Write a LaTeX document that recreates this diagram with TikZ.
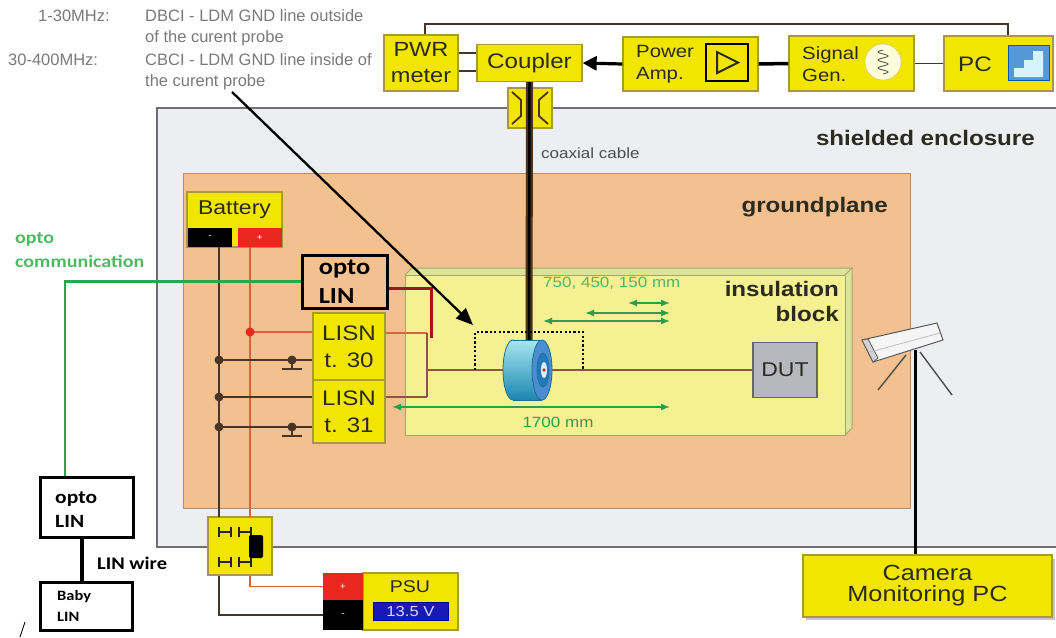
\documentclass[tikz,border=0pt]{standalone}
\usepackage{fontspec}
\setmainfont{Liberation Sans}[FakeStretch=1.15]
\newfontfamily\plainsans{Liberation Sans}
\newfontfamily\calfont{Carlito}[FakeStretch=1.15]
\usetikzlibrary{arrows.meta,calc}

\definecolor{encl}{HTML}{EDEEF1}
\definecolor{enclline}{HTML}{6F6F6F}
\definecolor{gplane}{HTML}{F3C18F}
\definecolor{gpline}{HTML}{B98A66}
\definecolor{insul}{HTML}{F5F091}
\definecolor{insulside}{HTML}{DCE39A}
\definecolor{insulline}{HTML}{A5A56A}
\definecolor{boxyel}{HTML}{F2E500}
\definecolor{boxline}{HTML}{A89A3A}
\definecolor{txt}{HTML}{2B2B1F}
\definecolor{graytxt}{HTML}{7A7A7A}
\definecolor{optogreen}{HTML}{2EA44F}
\definecolor{optotext}{HTML}{4DBA62}
\definecolor{dimgreen}{HTML}{2F9E4A}
\definecolor{wirebrown}{HTML}{8E5448}
\definecolor{wirered}{HTML}{E2603E}
\definecolor{wiredark}{HTML}{4A3426}
\definecolor{darkred}{HTML}{A0161A}
\definecolor{dutgray}{HTML}{B7B7BF}
\definecolor{termred}{HTML}{E8281E}
\definecolor{probelight}{HTML}{A6E6F2}
\definecolor{probedark}{HTML}{1C86B0}
\definecolor{probeline}{HTML}{1F6E8C}

\newcommand{\setsz}[2]{\fontsize{#1}{#2}\selectfont}

\tikzset{
  lbl/.style={inner sep=0pt, text=txt},
  instr/.style={draw=boxline, line width=1.3pt, fill=boxyel, inner sep=0pt, text=txt, align=center},
  blackbox/.style={draw=black, line width=3pt, inner sep=0pt, text=black},
  wire/.style={line width=1.6pt, wiredark},
  dim/.style={dimgreen, line width=1.4pt, {Latex[length=9pt,width=7pt]}-{Latex[length=9pt,width=7pt]}},
  gnd/.pic={
    \fill[wiredark] (0,0) circle (4.5pt);
    \draw[wiredark, line width=1.6pt] (0,0) -- (0,9);
    \draw[wiredark, line width=1.6pt] (-10,9) -- (10,9);
  },
  hcap/.pic={
    \draw[black!85, line width=1.8pt] (-6,-5) -- (-6,5) (-6,0) -- (6,0) (6,-5) -- (6,5);
  }
}

\begin{document}
\begin{tikzpicture}[x=1pt,y=-1pt]
\useasboundingbox (0,0) rectangle (1056,637);
\fill[white] (0,0) rectangle (1056,637);

% ---------- shielded enclosure and groundplane ----------
\fill[encl] (157,108) rectangle (1070,547);
\draw[enclline, line width=1.6pt] (1070,108) -- (157,108) -- (157,547) -- (1070,547);
\draw[gpline, line width=1pt, fill=gplane] (183,173) rectangle (910,508);

\node[lbl, anchor=east, font=\bfseries\setsz{21}{25}] (shtxt) at (1035,138) {shielded enclosure};
\node[lbl, anchor=east, font=\bfseries\setsz{21}{25}] (gptxt) at (888,207) {groundplane};

% ---------- insulation block ----------
\fill[insulside] (405,275) -- (412,268) -- (852,268) -- (852,428) -- (845,435) -- cycle;
\draw[insulline, line width=1pt] (405,275) -- (412,268) -- (852,268) -- (852,428) -- (845,435);
\draw[insulline, line width=1pt] (845,275) -- (852,268);
\draw[insulline, line width=1pt, fill=insul] (405,275) rectangle (845,435);
\node[lbl, anchor=east, align=right, font=\bfseries\setsz{21}{25}] (instxt) at (839,301) {insulation\\block};

\node[draw=gray!80!black, line width=1.2pt, fill=dutgray, minimum width=64, minimum height=55, inner sep=0pt, font=\setsz{20}{24}, text=txt] (dut) at (785,370) {DUT};

% ---------- instruments outside the enclosure ----------
\node[instr, minimum width=74, minimum height=56, font=\setsz{20.5}{26}] (pwr) at (421,63) {PWR\\meter};
\node[instr, minimum width=105, minimum height=37, font=\setsz{21}{25}] (coupler) at (529.5,63) {Coupler};
\node[instr, minimum width=135, minimum height=54] (amp) at (690.5,64) {};
\node[lbl, anchor=west, align=left, font=\setsz{17.7}{22}] (amptxt) at (636,64) {Power\\Amp.};
\node[draw=black, line width=2.5pt, fill=boxyel, minimum width=42, minimum height=37, inner sep=0pt] (ampicon) at (727,62.5) {};
\draw[txt, line width=2pt] (717,52) -- (738,62.5) -- (717,73) -- cycle;
\node[instr, minimum width=125, minimum height=55] (sig) at (851.5,63.5) {};
\node[lbl, anchor=west, align=left, font=\setsz{17.7}{22}] (sigtxt) at (802,64) {Signal\\Gen.};
\node[circle, draw=boxline!60, fill=yellow!15!white, minimum size=36, inner sep=0pt] (sigicon) at (883,62) {};
\draw[gray!70!black, line width=0.9pt] plot[domain=-12:12, samples=40] ({883+5*sin(\x*45)}, {62+\x});
\node[instr, minimum width=109, minimum height=55] (pc) at (998.5,63.5) {};
\node[lbl, font=\setsz{21}{25}] (pctxt) at (975,64) {PC};
\node[draw=blue!50!cyan!70!black, fill=cyan!60!blue!70, minimum width=41, minimum height=35, inner sep=0pt] (pcicon) at (1028.5,62.5) {};
\fill[white!85!cyan] (1014,77) -- (1014,68) -- (1024,68) -- (1024,60) -- (1033,60) -- (1033,51) -- (1043,51) -- (1043,77) -- cycle;

\draw[wiredark, line width=2pt] ([xshift=4pt]pwr.north) -- ++(0,-10) -| ([xshift=9.5pt]pc.north);
\draw[wiredark, line width=1.5pt] ([yshift=10pt]pwr.east) -- ([yshift=10pt]pwr.east -| coupler.west);
\draw[wiredark, line width=1.5pt] ([yshift=-8pt]pwr.east) -- ([yshift=-8pt]pwr.east -| coupler.west);
\draw[black, line width=3.2pt, -{Triangle[length=14pt,width=14pt]}] (amp.west) -- (coupler.east);
\draw[black, line width=3.5pt] (amp.east) -- (sig.west);
\draw[wiredark, line width=1.5pt] (sig.east) -- (pc.west);

% ---------- coaxial feed through and cable ----------
\node[instr, minimum width=44, minimum height=40] (conn) at (530,108) {};
\draw[wiredark, line width=1.8pt] (512,92) -- (521,100) -- (521,116) -- (512,124);
\draw[wiredark, line width=1.8pt] (548,92) -- (539,100) -- (539,116) -- (548,124);
\coordinate (probetop) at (529,341);
\draw[line width=7pt, black!60!brown] (coupler.south) -- (probetop);
\draw[line width=2.5pt, black] (coupler.south) -- (probetop);
\node[lbl, anchor=west, text=black!70, font=\setsz{14.8}{18}] (coaxtxt) at (541,153) {coaxial cable};

% ---------- top annotations ----------
\begin{scope}[every node/.style={lbl, anchor=west, text=graytxt, font=\plainsans\setsz{16.5}{20}}]
  \node (tla) at (38,16) {1-30MHz:};
  \node (tlb) at (145,16) {DBCI - LDM GND line outside};
  \node (tlc) at (145,38) {of the curent probe};
  \node (tld) at (8,60) {30-400MHz:};
  \node (tle) at (145,60) {CBCI - LDM GND line inside of};
  \node (tlf) at (145,82) {the curent probe};
\end{scope}

% ---------- battery, LISNs and wiring ----------
\node[instr, minimum width=95, minimum height=55] (bat) at (234.5,219.5) {};
\node[lbl, font=\setsz{20}{24}] (battxt) at (234.5,210) {Battery};
\node[fill=black, minimum width=44, minimum height=19, inner sep=0pt, text=white, font=\setsz{9}{9}] (batneg) at (210,237.5) {-};
\node[fill=termred, minimum width=44, minimum height=19, inner sep=0pt, text=white, font=\setsz{9}{9}] (batpos) at (260,237.5) {+};

\node[instr, minimum width=64, minimum height=58] (fuse) at (240,546) {};
\pic at (225,532) {hcap};
\pic at (245,532) {hcap};
\pic at (225,562) {hcap};
\pic at (245,562) {hcap};

\coordinate (negtop) at (219,247);
\coordinate (postop) at (250,247);
\coordinate (negbot) at (219,517);
\coordinate (posbot) at (250,517);
\coordinate (ja) at (219,360);
\coordinate (jb) at (219,397);
\coordinate (jc) at (219,427);
\coordinate (jr) at (250,332);

\draw[wire] (negtop) -- (negbot);
\draw[wirered, line width=1.6pt] (postop) -- (posbot);
\fill[black, rounded corners=2pt] (249,535) rectangle (263,558);

\node[instr, minimum width=72, minimum height=67, font=\setsz{21}{27}] (lisn30) at (349,346.5) {LISN\\t. 30};
\node[instr, minimum width=72, minimum height=63, font=\setsz{21}{27}] (lisn31) at (349,411.5) {LISN\\t. 31};

\draw[wirered, line width=1.6pt] (jr) -- (jr -| lisn30.west);
\fill[termred] (jr) circle (4.5pt);
\draw[wire] (ja) -- (ja -| lisn30.west);
\draw[wire] (jb) -- (jb -| lisn31.west);
\draw[wire] (jc) -- (jc -| lisn31.west);
\foreach \j in {ja,jb,jc} \fill[wiredark] (\j) circle (4.5pt);
\pic at (292,360) {gnd};
\pic at (292,427) {gnd};

\coordinate (outtop) at (427,333);
\coordinate (outmid) at (427,370);
\coordinate (outbot) at (427,397);
\draw[wirered, line width=1.6pt] (outtop -| lisn30.east) -- (outtop);
\draw[wirebrown, line width=1.8pt] (outtop) -- (outbot);
\draw[wirebrown, line width=1.8pt] (outbot -| lisn31.east) -- (outbot);
\draw[wirebrown, line width=2pt] (outmid) -- (dut.west);

% ---------- current probe ----------
\draw[black, line width=2.2pt, dash pattern=on 2.2pt off 2.2pt] (475,370) |- (583,332) -- (583,370);
\shade[top color=probelight, bottom color=probedark, draw=probeline, line width=0.8pt] (513,370) ellipse [x radius=10pt, y radius=30pt];
\shade[top color=probelight, bottom color=probedark] (513,340) rectangle (542,400);
\draw[probeline, line width=0.8pt] (513,340) -- (542,340) (513,400) -- (542,400);
\draw[probeline, line width=0.8pt, fill=cyan!55!blue!75] (542,370) ellipse [x radius=10pt, y radius=30pt];
\draw[probeline, line width=0.6pt, fill=cyan!60!blue!90!black] (543,370) ellipse [x radius=6pt, y radius=17pt];
\fill[white!85!cyan] (544,370) ellipse [x radius=3pt, y radius=8pt];
\fill[termred] (544,370) circle (1.8pt);

% ---------- opto link ----------
\node[blackbox, minimum width=85, minimum height=53, align=left, font=\calfont\bfseries\setsz{23}{29}] (optoA) at (344.5,281.5) {opto\\LIN};
\draw[darkred, line width=2.6pt] ([yshift=-7pt]optoA.east) -- ++(43,0) -- ++(0,49);

\node[blackbox, minimum width=93, minimum height=60] (optoB) at (86.5,507) {};
\node[lbl, anchor=west, align=left, text=black, font=\calfont\bfseries\setsz{18.7}{24}] (optoBtxt) at (55,510) {opto\\LIN};
\node[blackbox, minimum width=92, minimum height=48] (baby) at (86,606) {};
\node[lbl, anchor=west, align=left, text=black, font=\calfont\bfseries\setsz{14.3}{21}] (babytxt) at (57,606) {Baby\\LIN};
\draw[black, line width=4pt] ([xshift=-4.5pt]optoB.south) -- ([xshift=-4pt]baby.north);
\node[lbl, anchor=west, text=black, font=\calfont\bfseries\setsz{17.8}{22}] (lintxt) at (97,563) {LIN wire};
\draw[optogreen, line width=2.6pt] (optoA.west) -| ([xshift=-21.5pt]optoB.north);
\node[lbl, anchor=west, align=left, text=optotext, font=\calfont\bfseries\setsz{17.4}{24}] (optocomm) at (15,250) {opto\\communication};
\draw[black, line width=0.8pt] (20,637) -- (25,622);

% ---------- dimensions ----------
\draw[dim] (392,407) -- (670,407);
\node[lbl, text=dimgreen, font=\setsz{14.8}{18}] (d1700) at (558,422) {1700 mm};
\draw[dim] (628,303) -- (670,303);
\draw[dim] (585,313) -- (670,313);
\draw[dim] (543,321) -- (670,321);
\node[lbl, anchor=west, text=dimgreen!80, font=\setsz{14.8}{18}] (dshort) at (543,283) {750, 450, 150 mm};

% ---------- pointer to the probe ----------
\coordinate (ptrstart) at (232,92);
\coordinate (ptrend) at (473,325);
\draw[black, line width=2.3pt, -{Triangle[length=17pt,width=14pt]}] (ptrstart) -- (ptrend);

% ---------- power supply ----------
\node[instr, minimum width=95, minimum height=57] (psu) at (410.5,601.5) {};
\node[lbl, font=\setsz{17}{20}] (psutxt) at (410,587) {PSU};
\node[draw=blue!60!black, fill=blue!70!black!90, minimum width=75, minimum height=18, inner sep=0pt, text=blue!15, font=\setsz{14.5}{16}] (volt) at (410.5,611) {13.5 V};
\node[fill=termred, minimum width=40, minimum height=27, inner sep=0pt, text=white, font=\setsz{9}{9}] (psupos) at (343,586.5) {+};
\node[fill=black, minimum width=40, minimum height=30, inner sep=0pt, text=white, font=\setsz{9}{9}] (psuneg) at (343,615) {-};
\draw[wire] ([xshift=-21pt]fuse.south) |- (psuneg.west);
\draw[wirered, line width=1.6pt] ([xshift=10pt]fuse.south) |- (psupos.west);

% ---------- camera ----------
\fill[gray!45] (806,559) rectangle (1055,620);
\node[instr, minimum width=249, minimum height=62, font=\setsz{22}{21}] (cam) at (927.5,586) {Camera\\Monitoring PC};
\draw[gray!60!black, line width=1.4pt] (906,355) -- (878,390);
\draw[gray!60!black, line width=1.4pt] (920,352) -- (952,395);
\draw[black, line width=3pt] (915,350) -- ([xshift=-12.5pt]cam.north);
\draw[gray!70!black, line width=1pt, fill=gray!8] (862,340) -- (937,323) -- (943,340) -- (873,362) -- cycle;
\draw[gray!70!black, line width=0.8pt, fill=gray!35] (862,340) -- (868,339) -- (878,358) -- (873,362) -- cycle;
\draw[gray!50, line width=0.8pt] (870,352) -- (940,333);
\end{tikzpicture}
\end{document}
